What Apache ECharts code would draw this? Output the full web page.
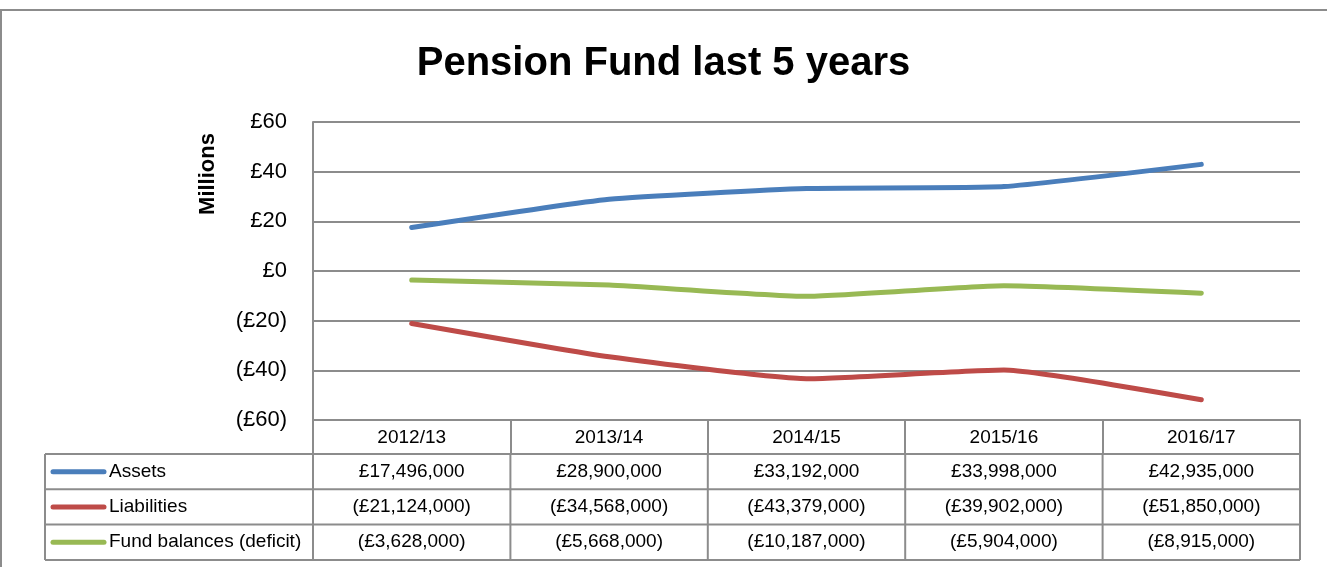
<!DOCTYPE html>
<html>
<head>
<meta charset="utf-8">
<script src="https://cdn.jsdelivr.net/npm/echarts@6/dist/echarts.min.js"></script>
<style>
html,body{margin:0;padding:0;background:#fff;}
#chart{width:1327px;height:567px;}
</style>
</head>
<body>
<div id="chart"></div>
<script>
// ---- data ----
const title = 'Pension Fund last 5 years';
const yAxisName = 'Millions';
const categories = ['2012/13', '2013/14', '2014/15', '2015/16', '2016/17'];
const seriesNames = ['Assets', 'Liabilities', 'Fund balances (deficit)'];
const assets = [17496000, 28900000, 33192000, 33998000, 42935000];
const liabilities = [-21124000, -34568000, -43379000, -39902000, -51850000];
const fundBalances = [-3628000, -5668000, -10187000, -5904000, -8915000];
const yTicks = { min: -60, max: 60, interval: 20 };

// ---- styling / layout ----
const colors = ['#4A7EBB', '#BE4B48', '#98B954'];
const FONT = '"Liberation Sans", Arial, sans-serif';
const GRID_L = 313, GRID_R = 1300, GRID_T = 122, GRID_B = 420;
const TABLE_L = 45;
const HEADER_B = 454;
const ROW_H = 35.3;
const LINE_C = '#8c8c8c';

const allSeries = [assets, liabilities, fundBalances];

function fmtMoney(v) {
  const s = '£' + Math.abs(v).toLocaleString('en-GB');
  return v < 0 ? '(' + s + ')' : s;
}
function fmtTick(v) {
  return v < 0 ? '(£' + Math.abs(v) + ')' : '£' + v;
}

const chart = echarts.init(document.getElementById('chart'), null, { renderer: 'canvas' });

const graphics = [];
// outer chart-area frame
graphics.push({ type: 'rect', shape: { x: 1, y: 10, width: 1400, height: 700 },
  style: { fill: 'none', stroke: '#8c8c8c', lineWidth: 2 }, silent: true });
// y axis title
graphics.push({ type: 'text', x: 208, y: 174, rotation: Math.PI / 2,
  style: { text: yAxisName, font: 'bold 22px ' + FONT, fill: '#000', textAlign: 'center', textVerticalAlign: 'middle' }, silent: true });

const colW = (GRID_R - GRID_L) / categories.length;
const tableBottom = HEADER_B + ROW_H * seriesNames.length;
for (let r = 0; r <= seriesNames.length; r++) {
  const y = HEADER_B + ROW_H * r;
  graphics.push({ type: 'line', shape: { x1: TABLE_L, y1: y, x2: GRID_R, y2: y },
    style: { stroke: LINE_C, lineWidth: 2 }, silent: true });
}
const vx = [TABLE_L];
for (let c = 0; c <= categories.length; c++) vx.push(GRID_L + colW * c);
vx.forEach(x => graphics.push({ type: 'line', shape: { x1: x, y1: HEADER_B, x2: x, y2: tableBottom },
  style: { stroke: LINE_C, lineWidth: 2 }, silent: true }));

seriesNames.forEach((name, r) => {
  const cy = HEADER_B + ROW_H * (r + 0.5);
  graphics.push({ type: 'line', shape: { x1: 53, y1: cy, x2: 104, y2: cy },
    style: { stroke: colors[r], lineWidth: 5, lineCap: 'round' }, silent: true });
  graphics.push({ type: 'text', x: 109, y: cy,
    style: { text: name, font: '19px ' + FONT, fill: '#000', textAlign: 'left', textVerticalAlign: 'middle' }, silent: true });
  allSeries[r].forEach((v, c) => {
    graphics.push({ type: 'text', x: GRID_L + colW * (c + 0.5), y: cy,
      style: { text: fmtMoney(v), font: '19px ' + FONT, fill: '#000', textAlign: 'center', textVerticalAlign: 'middle' }, silent: true });
  });
});

const option = {
  backgroundColor: '#fff',
  animation: false,
  title: {
    text: title, left: 'center', top: 39,
    textStyle: { fontFamily: FONT, fontSize: 40, fontWeight: 'bold', color: '#000' }
  },
  grid: { left: GRID_L, right: 1327 - GRID_R, top: GRID_T, bottom: 567 - GRID_B, containLabel: false },
  xAxis: {
    type: 'category', data: categories, boundaryGap: true,
    axisLine: { show: true, onZero: false, lineStyle: { color: LINE_C, width: 2 } },
    axisTick: { show: true, interval: 0, length: HEADER_B - GRID_B, lineStyle: { color: LINE_C, width: 2 } },
    axisLabel: { interval: 0, margin: 8, fontFamily: FONT, fontSize: 19, color: '#000' },
    splitLine: { show: false }
  },
  yAxis: {
    type: 'value', min: yTicks.min, max: yTicks.max, interval: yTicks.interval,
    axisLine: { show: true, lineStyle: { color: LINE_C, width: 2 } },
    axisTick: { show: false },
    axisLabel: { formatter: fmtTick, margin: 26, fontFamily: FONT, fontSize: 22, color: '#000' },
    splitLine: { show: true, lineStyle: { color: LINE_C, width: 2 } }
  },
  series: seriesNames.map((name, i) => ({
    name: name, type: 'line',
    data: allSeries[i].map(v => v / 1e6),
    smooth: 0.15, symbol: 'none',
    lineStyle: { color: colors[i], width: 5, cap: 'round', join: 'round' },
    itemStyle: { color: colors[i] }
  })),
  graphic: graphics
};
chart.setOption(option);
</script>
</body>
</html>
